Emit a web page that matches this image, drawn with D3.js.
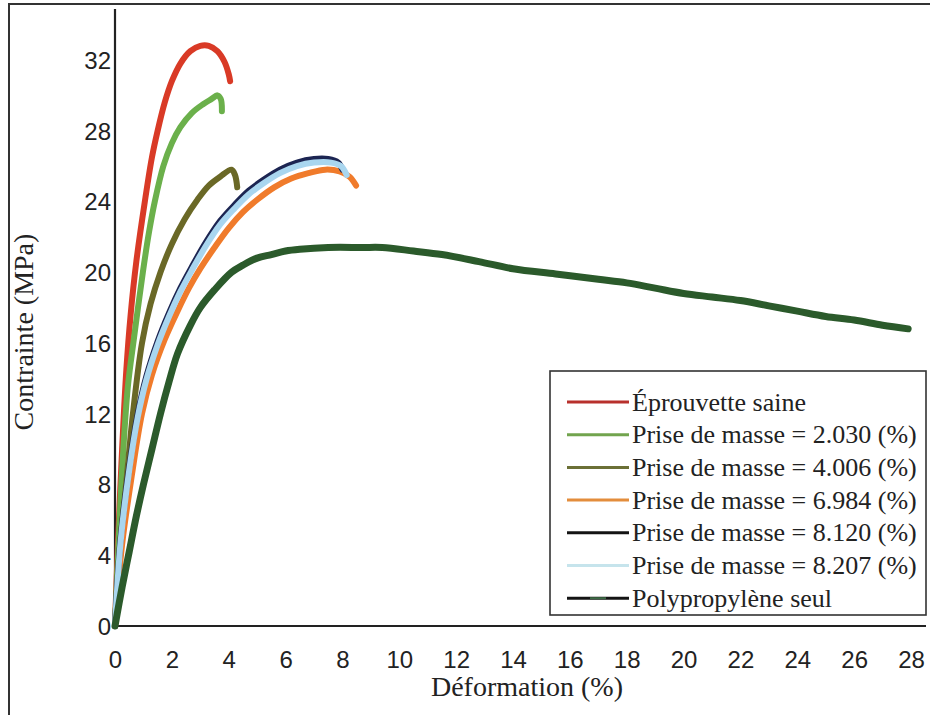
<!DOCTYPE html>
<html>
<head>
<meta charset="utf-8">
<script src="https://cdn.jsdelivr.net/npm/d3@7"></script>
<style>
  html, body { margin: 0; padding: 0; background: #fff; }
  svg { display: block; }
</style>
</head>
<body>
<svg id="chart" width="931" height="715"></svg>
<script>
// Stress–strain curves: strain (%) and stress (MPa) for each specimen
const saineStrain = [0, 0.1, 0.25, 0.4, 0.55, 0.75, 1.05, 1.3, 1.5, 1.75, 2.0, 2.3, 2.65, 3.0, 3.3, 3.6, 3.85, 4.0, 4.05];
const saineStress = [0, 4.5, 10.0, 14.5, 17.6, 20.6, 24.0, 26.5, 28.0, 29.6, 30.8, 31.8, 32.5, 32.8, 32.8, 32.5, 31.9, 31.2, 30.8];

const pm2030Strain = [0, 0.1, 0.25, 0.45, 0.67, 0.98, 1.2, 1.4, 1.7, 2.0, 2.3, 2.7, 3.1, 3.4, 3.6, 3.72, 3.76];
const pm2030Stress = [0, 3.8, 8.8, 13.5, 16.3, 20.0, 22.3, 24.0, 26.0, 27.3, 28.2, 29.0, 29.5, 29.8, 30.0, 29.8, 29.1];

const pm4006Strain = [0, 0.15, 0.39, 0.63, 0.95, 1.25, 1.6, 2.0, 2.45, 2.9, 3.3, 3.7, 4.1, 4.22, 4.3];
const pm4006Stress = [0, 4.0, 8.0, 12.0, 16.0, 18.2, 20.0, 21.6, 23.0, 24.1, 24.9, 25.4, 25.8, 25.5, 24.8];

const pm6984Strain = [0, 0.25, 0.6, 0.95, 1.3, 1.75, 2.2, 2.6, 3.0, 3.5, 4.0, 4.5, 5.0, 5.6, 6.2, 6.8, 7.4, 7.9, 8.25, 8.48];
const pm6984Stress = [0, 4.6, 8.6, 12.0, 14.2, 16.2, 17.8, 19.1, 20.2, 21.4, 22.5, 23.4, 24.1, 24.8, 25.3, 25.6, 25.8, 25.7, 25.4, 24.9];

const pm8120Strain = [0, 0.2, 0.5, 0.8, 1.1, 1.5, 1.9, 2.3, 2.7, 3.2, 3.7, 4.2, 4.7, 5.2, 5.8, 6.4, 7.0, 7.5, 7.85, 8.0];
const pm8120Stress = [0, 5.0, 9.0, 12.0, 14.1, 16.1, 17.7, 19.1, 20.3, 21.7, 22.9, 23.8, 24.6, 25.2, 25.8, 26.2, 26.4, 26.4, 26.2, 25.8];

const pm8207Strain = [0, 0.2, 0.5, 0.8, 1.1, 1.5, 1.9, 2.3, 2.7, 3.2, 3.7, 4.2, 4.7, 5.2, 5.8, 6.4, 7.0, 7.6, 7.95, 8.15];
const pm8207Stress = [0, 4.8, 8.8, 11.8, 13.9, 15.9, 17.5, 18.9, 20.1, 21.5, 22.7, 23.6, 24.4, 25.0, 25.6, 26.0, 26.2, 26.2, 26.0, 25.5];

const ppStrain = [0, 0.25, 0.5, 0.75, 1.0, 1.3, 1.6, 1.9, 2.2, 2.65, 3.0, 3.5, 4.1, 4.5, 5.0, 5.5, 6.0, 6.5, 7.5, 8.7, 9.4, 10.5, 11.5, 12.8, 14.0, 15.5, 17.0, 18.0, 19.0, 20.0, 21.0, 22.0, 23.0, 24.0, 25.0, 26.0, 27.0, 27.9];
const ppStress = [0, 2.2, 4.2, 6.2, 8.0, 10.0, 12.0, 13.8, 15.4, 17.0, 18.0, 19.0, 20.0, 20.4, 20.8, 21.0, 21.2, 21.3, 21.4, 21.4, 21.4, 21.2, 21.0, 20.6, 20.2, 19.9, 19.6, 19.4, 19.1, 18.8, 18.6, 18.4, 18.1, 17.8, 17.5, 17.3, 17.0, 16.8];

const seriesNames = [
  "Éprouvette saine",
  "Prise de masse = 2.030 (%)",
  "Prise de masse = 4.006 (%)",
  "Prise de masse = 6.984 (%)",
  "Prise de masse = 8.120 (%)",
  "Prise de masse = 8.207 (%)",
  "Polypropylène seul"
];

const xTicks = [0, 2, 4, 6, 8, 10, 12, 14, 16, 18, 20, 22, 24, 26, 28];
const yTicks = [0, 4, 8, 12, 16, 20, 24, 28, 32];

const xTitle = "Déformation (%)";
const yTitle = "Contrainte (MPa)";

// ---- styling ----
const curveColors = ["#d93a26", "#6bb04b", "#6a6826", "#f07b2b", "#1c2552", "#a9d6ef", "#2b5a2b"];
const legendColors = ["#b8302c", "#72a44e", "#6b7036", "#e38d3c", "#141414", "#c6e4ec", "#141414"];

const series = [
  [saineStrain, saineStress],
  [pm2030Strain, pm2030Stress],
  [pm4006Strain, pm4006Stress],
  [pm6984Strain, pm6984Stress],
  [pm8120Strain, pm8120Stress],
  [pm8207Strain, pm8207Stress],
  [ppStrain, ppStress]
].map(([xs, ys], i) => ({
  name: seriesNames[i],
  color: curveColors[i],
  legendColor: legendColors[i],
  points: xs.map((x, j) => ({ x, y: ys[j] }))
}));

const svg = d3.select("#chart");

// outer frame
svg.append("path")
  .attr("d", "M9,718 L9,4 L930,4")
  .attr("fill", "none")
  .attr("stroke", "#333")
  .attr("stroke-width", 2);

const x = d3.scaleLinear().domain([0, 28]).range([115, 911]);
const y = d3.scaleLinear().domain([0, 32]).range([626, 60]);

const xMax = x.invert(926);
const yMax = y.invert(9);

// axis lines
svg.append("line")
  .attr("x1", x(0)).attr("x2", x(0))
  .attr("y1", y(yMax)).attr("y2", y(0))
  .attr("stroke", "#222").attr("stroke-width", 2.2);
svg.append("line")
  .attr("x1", x(0)).attr("x2", x(xMax))
  .attr("y1", y(0)).attr("y2", y(0))
  .attr("stroke", "#222").attr("stroke-width", 2.2);

// tick labels through d3 axes, with the tick marks and domain hidden
const tickFont = "'Liberation Sans', Arial, sans-serif";
const xAxis = svg.append("g")
  .attr("transform", `translate(0,${y(0) + 25})`)
  .call(d3.axisBottom(x).tickValues(xTicks).tickSize(0).tickFormat(d3.format("d")));
xAxis.select(".domain").remove();
xAxis.selectAll("text")
  .attr("font-family", tickFont)
  .attr("font-size", 24)
  .attr("fill", "#222")
  .attr("y", 0)
  .attr("dy", "0.71em");

const yAxis = svg.append("g")
  .attr("transform", `translate(${x(0) - 4},0)`)
  .call(d3.axisLeft(y).tickValues(yTicks).tickSize(0).tickFormat(d3.format("d")));
yAxis.select(".domain").remove();
yAxis.selectAll("text")
  .attr("font-family", tickFont)
  .attr("font-size", 24)
  .attr("fill", "#222")
  .attr("x", 0)
  .attr("dy", "0.35em");

// axis titles
const titleFont = "'Liberation Serif', 'Times New Roman', serif";
svg.append("text")
  .attr("x", 527).attr("y", 696)
  .attr("text-anchor", "middle")
  .attr("font-family", titleFont)
  .attr("font-size", 28)
  .attr("fill", "#222")
  .text(xTitle);

svg.append("text")
  .attr("transform", "translate(33,332) rotate(-90)")
  .attr("text-anchor", "middle")
  .attr("font-family", titleFont)
  .attr("font-size", 28)
  .attr("fill", "#222")
  .text(yTitle);

// curves
const line = d3.line()
  .x(d => x(d.x))
  .y(d => y(d.y))
  .curve(d3.curveCatmullRom.alpha(0.5));

svg.append("g")
  .selectAll("path")
  .data(series)
  .join("path")
  .attr("d", d => line(d.points))
  .attr("fill", "none")
  .attr("stroke", d => d.color)
  .attr("stroke-width", (d, i) => i === 6 ? 7 : 6)
  .attr("stroke-linejoin", "round")
  .attr("stroke-linecap", "round");

// legend
const legend = svg.append("g");
legend.append("rect")
  .attr("x", 550).attr("y", 371)
  .attr("width", 376).attr("height", 244)
  .attr("fill", "#fff")
  .attr("stroke", "#333")
  .attr("stroke-width", 1.6);

const rowY = i => 402 + i * 32.7;
const rows = legend.selectAll("g.row")
  .data(series)
  .join("g")
  .attr("class", "row")
  .attr("transform", (d, i) => `translate(0,${rowY(i)})`);

rows.append("line")
  .attr("x1", 567).attr("x2", 629)
  .attr("y1", 0).attr("y2", 0)
  .attr("stroke", d => d.legendColor)
  .attr("stroke-width", 3);

// the polypropylene sample is black with a green core segment
rows.filter((d, i) => i === 6)
  .append("line")
  .attr("x1", 590).attr("x2", 606)
  .attr("y1", 0).attr("y2", 0)
  .attr("stroke", "#3d6a45")
  .attr("stroke-width", 2);

rows.append("text")
  .attr("x", 632)
  .attr("dy", "0.33em")
  .attr("font-family", titleFont)
  .attr("font-size", 26)
  .attr("fill", "#222")
  .text(d => d.name);
</script>
</body>
</html>
